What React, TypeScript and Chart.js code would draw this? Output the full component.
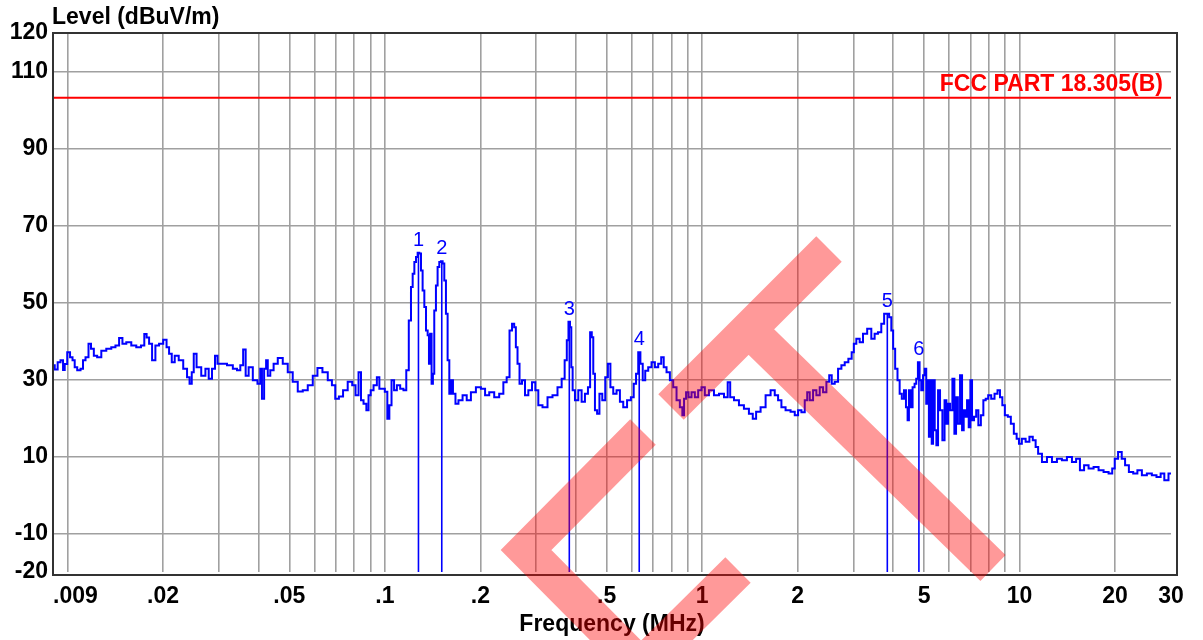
import React, { useEffect, useRef } from 'react';
import { Chart, registerables } from 'chart.js';

Chart.register(...registerables);

// ---- data ----
const freqMHz = [
  0.009, 0.00923, 0.00939, 0.00962, 0.00974, 0.00986, 0.0101, 0.01027, 0.01047, 0.0106,
  0.01086, 0.01112, 0.01126, 0.01153, 0.01176, 0.01196, 0.01225, 0.01255, 0.01301, 0.01349,
  0.01399, 0.01433, 0.01475, 0.01504, 0.0156, 0.01617, 0.01677, 0.01731, 0.0176, 0.0179,
  0.01825, 0.01869, 0.01915, 0.01971, 0.02034, 0.02069, 0.0211, 0.02151, 0.02203, 0.02279,
  0.02352, 0.02409, 0.02439, 0.02487, 0.02511, 0.02591, 0.02687, 0.02752, 0.02819, 0.02888,
  0.02944, 0.02994, 0.03105, 0.03259, 0.03379, 0.03461, 0.03546, 0.03607, 0.03677, 0.03767,
  0.03906, 0.0403, 0.04069, 0.04129, 0.04199, 0.0425, 0.04302, 0.04407, 0.04515, 0.04681,
  0.04854, 0.05032, 0.05218, 0.05413, 0.05612, 0.0582, 0.06035, 0.06228, 0.06489, 0.06728,
  0.06892, 0.07061, 0.07268, 0.07499, 0.07776, 0.08005, 0.08161, 0.08361, 0.08462, 0.0867,
  0.08818, 0.08946, 0.091, 0.09322, 0.0955, 0.09665, 0.09901, 0.1009, 0.1027, 0.1039,
  0.106, 0.1078, 0.1104, 0.1131, 0.1158, 0.1178, 0.1201,
  0.1216, 0.1231, 0.1246, 0.1261, 0.1276, 0.1292, 0.1307, 0.1323, 0.134, 0.1356,
  0.1372, 0.1382, 0.1395, 0.1412, 0.1422, 0.144, 0.1457, 0.1475, 0.1493, 0.1511,
  0.153, 0.1548, 0.1567, 0.1586, 0.1606, 0.1625, 0.1653, 0.1685, 0.1726, 0.1789,
  0.1833, 0.1901, 0.1971, 0.2044, 0.2094, 0.2171, 0.2251, 0.2334, 0.2391, 0.2449,
  0.2492, 0.254, 0.2571, 0.2602, 0.2634, 0.2679, 0.2731, 0.2798, 0.2866, 0.295,
  0.3008, 0.3081, 0.3196, 0.3314, 0.3436, 0.3563, 0.365, 0.3721, 0.3766, 0.3812,
  0.3849, 0.3886, 0.3924, 0.402, 0.4118, 0.4219, 0.4322, 0.4407, 0.446, 0.4514,
  0.4558, 0.4625, 0.4703, 0.4784, 0.4901, 0.4995, 0.5093, 0.518, 0.5307, 0.5437,
  0.557, 0.5706, 0.5888, 0.6032, 0.6134, 0.624, 0.6331, 0.6439, 0.6549, 0.6677,
  0.684, 0.7008, 0.7179, 0.7354, 0.7498, 0.7626, 0.7813, 0.8004, 0.82,
  0.84, 0.8604, 0.871, 0.8818, 0.8968, 0.9142, 0.9365, 0.9594, 0.9826, 1.007,
  1.031, 1.069, 1.109, 1.15, 1.193, 1.213, 1.237, 1.282, 1.329, 1.378,
  1.429, 1.457, 1.5, 1.555, 1.613, 1.672, 1.713, 1.755, 1.798, 1.864,
  1.933, 1.981, 2.029, 2.079,
  2.129, 2.155, 2.208, 2.262, 2.317, 2.374, 2.432, 2.492, 2.534, 2.584,
  2.647, 2.712, 2.778, 2.846, 2.929, 2.986, 3.022, 3.096, 3.172, 3.25,
  3.37, 3.451, 3.536, 3.622, 3.711, 3.775, 3.848, 3.914,
  3.972, 4.02, 4.089, 4.159, 4.219, 4.291, 4.354, 4.416, 4.459, 4.502,
  4.568, 4.634, 4.702, 4.748, 4.817, 4.864, 4.935, 4.994, 5.055, 5.105,
  5.154, 5.204, 5.267, 5.306, 5.37, 5.435, 5.501, 5.568, 5.663, 5.76,
  5.844, 5.916, 5.988, 6.09, 6.194, 6.269, 6.345, 6.437, 6.548, 6.627,
  6.707, 6.789, 6.872, 6.955, 7.04, 7.125, 7.246, 7.352, 7.478, 7.624,
  7.754, 7.887, 8.041, 8.238, 8.439, 8.603, 8.75, 8.899, 9.073, 9.295,
  9.476, 9.708, 9.872, 10.04, 10.29, 10.61, 10.87, 11.14, 11.33, 11.55,
  11.98, 12.42, 12.88, 13.35, 13.84, 14.36, 14.89, 15.25, 15.74, 16.2,
  16.8, 17.42, 18.06, 18.73, 19.42, 19.75, 20.14, 20.73, 21.24, 21.76,
  22.45, 23.17, 23.85, 24.73, 25.64, 26.58, 27.43, 28.23, 28.93, 30,
];

const levelDb = [
  33.7, 32.6, 34.5, 35.0, 32.5, 34.0, 37.1, 35.8, 35.0, 33.2,
  32.4, 32.8, 35.0, 35.8, 39.3, 38.0, 36.2, 35.8, 37.5, 38.0,
  38.4, 38.8, 40.8, 39.3, 39.7, 38.8, 38.4, 38.8, 41.8, 40.9,
  39.3, 35.0, 38.8, 39.3, 40.3, 38.4, 36.7, 34.5, 36.2, 35.0,
  32.8, 30.6, 28.9, 31.9, 36.7, 33.2, 31.0, 32.8, 30.2, 32.8,
  36.2, 34.1, 34.1, 33.7, 32.8, 32.4, 33.7, 37.8, 31.0, 33.2,
  29.8, 28.9, 32.8, 25.0, 32.8, 35.0, 31.0, 32.4, 34.1, 35.6,
  34.1, 31.9, 29.4, 26.9, 27.2, 28.5, 31.0, 33.0, 31.9, 29.8,
  28.5, 25.0, 25.6, 27.2, 29.4, 28.5, 25.9, 31.9, 24.6, 23.7,
  22.0, 25.9, 27.2, 28.5, 30.6, 27.6, 27.6, 26.8, 19.8, 23.3,
  29.8, 27.2, 28.5, 27.6, 27.2, 32.4, 45.3,
  54.0, 57.5, 60.5, 61.8, 62.9, 62.7, 58.3, 53.1, 48.8, 42.7,
  41.5, 34.1, 41.9, 28.9, 31.5, 47.9, 54.4, 59.2, 60.5, 60.7,
  60.1, 55.7, 47.1, 35.0, 26.3, 29.8, 26.3, 23.7, 24.6, 25.9,
  24.6, 26.7, 28.0, 27.6, 25.9, 26.7, 25.4, 26.3, 29.3, 30.6,
  42.7, 44.5, 43.6, 38.4, 34.1, 28.9, 29.8, 25.9, 27.2, 29.3,
  27.2, 23.3, 22.8, 25.4, 25.9, 28.0, 30.2, 35.0, 40.2, 45.0,
  43.6, 33.2, 27.2, 24.6, 27.2, 24.2, 26.3, 28.0, 42.3, 41.0,
  31.5, 22.0, 21.1, 26.3, 24.6, 30.6, 34.1, 28.0, 26.3, 27.2,
  24.2, 22.8, 24.6, 25.4, 28.9, 31.5, 37.1, 34.1, 29.8, 32.3,
  33.2, 34.5, 33.2, 34.1, 35.8, 33.2, 31.9, 29.8, 28.0,
  24.6, 22.8, 20.7, 25.0, 26.7, 25.4, 26.7, 25.4, 27.2, 28.0,
  25.9, 27.2, 25.9, 26.3, 25.4, 29.3, 25.4, 24.6, 23.3, 22.4,
  21.1, 19.8, 21.6, 22.8, 25.9, 27.2, 25.9, 24.6, 22.8, 22.0,
  21.6, 20.7, 22.0, 21.5,
  24.6, 26.7, 24.6, 27.2, 25.9, 28.0, 26.7, 29.4, 31.1, 28.9,
  29.4, 32.8, 33.7, 34.5, 35.4, 37.1, 39.3, 40.6, 39.7, 41.9,
  43.2, 40.6, 41.9, 42.3, 44.5, 47.1, 47.1, 46.2,
  42.7, 38.0, 32.8, 29.8, 26.3, 25.0, 27.2, 22.8, 19.4, 27.2,
  22.8, 28.0, 28.9, 30.2, 34.5, 29.8, 27.2, 31.1, 32.8, 23.7,
  29.8, 15.1, 29.8, 13.3, 29.8, 16.8, 12.9, 27.2, 22.0, 14.2,
  24.6, 18.5, 23.7, 22.0, 30.2, 15.9, 25.4, 18.5, 31.1, 16.8,
  22.0, 20.3, 24.6, 17.6, 29.8, 19.4, 20.3, 22.0, 18.1, 20.7,
  24.6, 25.0, 25.9, 25.0, 26.3, 27.2, 25.4, 23.3, 20.7, 20.3,
  18.5, 15.9, 14.6, 13.3, 14.6, 13.8, 15.1, 14.2, 12.5, 10.7,
  8.6, 9.9, 8.6, 9.4, 9.0, 9.9, 8.6, 9.4, 6.4, 7.7,
  6.9, 7.3, 6.4, 6.0, 5.6, 6.9, 9.4, 11.2, 9.4, 7.7,
  6.0, 5.6, 6.4, 5.1, 5.6, 5.1, 4.7, 5.6, 3.8, 5.6,
];

const peakFreq = [0.1276, 0.1511, 0.3812, 0.6331, 3.83, 4.817];
const peakLevel = [62.9, 60.7, 45.0, 37.1, 47.1, 34.5];
const peakLabels = ['1', '2', '3', '4', '5', '6'];

const limitLevel = 103.2;
const limitLabel = 'FCC PART 18.305(B)';
const limitRange = [0.009, 30];

const xTickValues = [
  0.009, 0.01, 0.02, 0.03, 0.04, 0.05, 0.06, 0.07, 0.08, 0.09,
  0.1, 0.2, 0.3, 0.4, 0.5, 0.6, 0.7, 0.8, 0.9,
  1, 2, 3, 4, 5, 6, 7, 8, 9, 10, 20, 30,
];
const xTickLabels = [
  '.009', '', '.02', '', '', '.05', '', '', '', '',
  '.1', '.2', '', '', '.5', '', '', '', '',
  '1', '2', '', '', '5', '', '', '', '', '10', '20', '30',
];
const yTickValues = [-20, -10, 10, 30, 50, 70, 90, 110, 120];

const xTitle = 'Frequency (MHz)';
const yTitle = 'Level (dBuV/m)';

// decorative watermark strokes (not data)
const watermarkPaths = [
  [[643, 432], [526, 550], [641, 666], [738, 570]],
  [[671, 407], [829, 249]],
  [[749, 330], [993, 568]],
];

const FONT = '"Liberation Sans", Arial, Helvetica, sans-serif';
const GRID = '#a0a0a0';

export default function App() {
  const canvasRef = useRef<HTMLCanvasElement | null>(null);

  useEffect(() => {
    document.body.style.margin = '0';
    const canvas = canvasRef.current;
    if (!canvas) return;

    const decor = {
      id: 'decor',
      afterDraw(chart: any) {
        const { ctx, chartArea: a, scales } = chart;
        const xs = scales.x;
        const ys = scales.y;
        ctx.save();
        // frame
        ctx.strokeStyle = '#333';
        ctx.lineWidth = 2;
        ctx.strokeRect(a.left, a.top, a.right - a.left + 6, a.bottom - a.top + 3);

        // y title
        ctx.fillStyle = '#000';
        ctx.font = `bold 23px ${FONT}`;
        ctx.textAlign = 'left';
        ctx.textBaseline = 'alphabetic';
        ctx.fillText(yTitle, a.left - 1, a.top - 9);

        // first x label, left aligned at the axis start
        ctx.textBaseline = 'middle';
        ctx.fillText(xTickLabels[0], a.left, a.bottom + 25);

        // limit label
        ctx.fillStyle = '#ff0000';
        ctx.textAlign = 'right';
        ctx.textBaseline = 'alphabetic';
        ctx.fillText(limitLabel, a.right - 8, ys.getPixelForValue(limitLevel) - 7);

        // peak numbers
        ctx.fillStyle = '#0000ff';
        ctx.font = `20px ${FONT}`;
        ctx.textAlign = 'center';
        for (let i = 0; i < peakFreq.length; i++) {
          ctx.fillText(peakLabels[i], xs.getPixelForValue(peakFreq[i]), ys.getPixelForValue(peakLevel[i]) - 7);
        }

        // watermark
        ctx.strokeStyle = 'rgba(255,0,0,0.4)';
        ctx.lineWidth = 36;
        ctx.lineJoin = 'miter';
        ctx.lineCap = 'butt';
        ctx.beginPath();
        for (const p of watermarkPaths) {
          ctx.moveTo(p[0][0], p[0][1]);
          for (let k = 1; k < p.length; k++) ctx.lineTo(p[k][0], p[k][1]);
        }
        ctx.stroke();
        ctx.restore();
      },
    };

    const trace = freqMHz.map((f, i) => ({ x: f, y: levelDb[i] }));
    const peakSets = peakFreq.map((f, i) => ({
      label: 'Peak ' + peakLabels[i],
      data: [{ x: f, y: peakLevel[i] }, { x: f, y: -20 }],
      borderColor: '#0000ff',
      borderWidth: 1.6,
      pointRadius: 0,
    }));

    const chart = new Chart(canvas, {
      type: 'line',
      data: {
        datasets: [
          {
            label: 'Level',
            data: trace,
            borderColor: '#0000ff',
            borderWidth: 2,
            pointRadius: 0,
            stepped: 'middle',
          },
          ...peakSets,
          {
            label: limitLabel,
            data: limitRange.map((f) => ({ x: f, y: limitLevel })),
            borderColor: '#ff0000',
            borderWidth: 2,
            pointRadius: 0,
          },
        ],
      },
      options: {
        responsive: false,
        animation: false,
        layout: { padding: { top: 33, right: 32, left: 0, bottom: 0 } },
        plugins: {
          legend: { display: false },
          tooltip: { enabled: false },
          title: { display: false },
        },
        scales: {
          x: {
            type: 'logarithmic',
            min: 0.009,
            max: 30,
            afterBuildTicks: (scale: any) => {
              scale.ticks = xTickValues.map((v) => ({ value: v }));
            },
            afterFit: (scale: any) => {
              scale.height = 68;
            },
            ticks: {
              autoSkip: false,
              maxRotation: 0,
              minRotation: 0,
              padding: 11,
              color: '#000',
              font: { family: FONT, size: 23, weight: 'bold' },
              callback: (_v: any, i: number) => (i === 0 ? '' : xTickLabels[i]),
            },
            grid: {
              drawTicks: false,
              lineWidth: 1.6,
              color: (c: any) =>
                c.tick && (c.tick.value === 0.009 || c.tick.value === 30) ? 'rgba(0,0,0,0)' : GRID,
            },
            border: { display: false },
            title: {
              display: true,
              text: xTitle,
              color: '#000',
              font: { family: FONT, size: 23, weight: 'bold' },
              padding: { top: 0, bottom: 2 },
            },
          },
          y: {
            type: 'linear',
            min: -20,
            max: 120,
            afterBuildTicks: (scale: any) => {
              scale.ticks = yTickValues.map((v) => ({ value: v }));
            },
            afterFit: (scale: any) => {
              scale.width = 53;
            },
            ticks: {
              padding: 5,
              color: '#000',
              font: { family: FONT, size: 23, weight: 'bold' },
              callback: (v: any) => String(v),
            },
            grid: {
              drawTicks: false,
              lineWidth: 1.6,
              color: (c: any) =>
                c.tick && (c.tick.value === -20 || c.tick.value === 120) ? 'rgba(0,0,0,0)' : GRID,
            },
            border: { display: false },
          },
        },
      },
      plugins: [decor],
    });

    return () => chart.destroy();
  }, []);

  return (
    <div style={{ width: 1203, height: 640, background: '#fff' }}>
      <canvas ref={canvasRef} width={1203} height={640} style={{ display: 'block' }} />
    </div>
  );
}
